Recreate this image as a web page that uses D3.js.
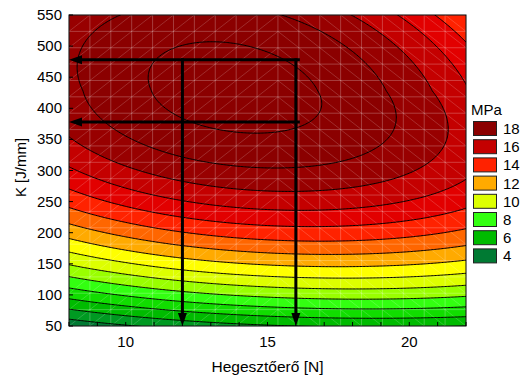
<!DOCTYPE html>
<html>
<head>
<meta charset="utf-8">
<script src="https://cdn.jsdelivr.net/npm/d3@7"></script>
<style>
  body { margin: 0; background: #fff; }
  text { font-family: "Liberation Sans", Arial, sans-serif; fill: #000; }
</style>
</head>
<body>
<script>
// tengelyek
const xTicks = [10, 15, 20];
const yTicks = [50, 100, 150, 200, 250, 300, 350, 400, 450, 500, 550];
const xMinor = [8, 9, 10, 11, 12, 13, 14, 15, 16, 17, 18, 19, 20, 21, 22];

// kontur szintek (MPa) es jelmagyarazat
const levels = [0, 1, 2, 3, 4, 5, 6, 7, 8, 9, 10, 11, 12, 13, 14, 15, 16, 17, 18, 19];
const legendValues = [18, 16, 14, 12, 10, 8, 6, 4];
const legendColors = ["#8b0000", "#c40000", "#ff2200", "#ffaa00", "#ddff00", "#33ff11", "#00bb00", "#007a33"];

// savok szinei szintenkent
const bandLevels = [3, 4, 5, 6, 7, 8, 9, 10, 11, 12, 13, 14, 15, 16, 17, 18];
const bandColors = ["#006a2c", "#007a33", "#009a22", "#00bb00", "#11dd00", "#33ff11", "#99ff00",
  "#ddff00", "#ffff00", "#ffaa00", "#ff6600", "#ff2200", "#e20000", "#c40000", "#980000", "#8b0000"];

// illesztett felulet: optimum [F, K, MPa], gorbuletek, gerinc
const peak = [13.84, 428, 19.43];
const curvK = [6.89e-5, 9.3e-5];   // K felett / alatt
const curvF = [0.05, 9.2e-5];
const ridge = [0.0107, 7.88e-6];

// nyilak (leolvasas)
const arrowF = [12, 16];
const arrowK = [478, 378];

function mpa(F, K) {
  const v = K - peak[1];
  const g = peak[2] - (v > 0 ? curvK[0] : curvK[1]) * v * v;
  const a = curvF[0] + curvF[1] * Math.min(v, 0);
  const fo = peak[0] - ridge[0] * v + ridge[1] * v * v;
  return g - a * (F - fo) * (F - fo);
}

const W = 524, H = 376;
const L = 69, R = 466, T = 15, B = 326;

const svg = d3.select("body").append("svg")
    .attr("width", W).attr("height", H);

const x = d3.scaleLinear().domain([8, 22]).range([L, R]);
const y = d3.scaleLinear().domain([50, 550]).range([B, T]);

const bandColor = d3.scaleLinear()
    .domain(bandLevels)
    .range(bandColors)
    .clamp(true);

svg.append("clipPath").attr("id", "plotclip")
  .append("rect").attr("x", L).attr("y", T).attr("width", R - L).attr("height", B - T);

const plot = svg.append("g").attr("clip-path", "url(#plotclip)");

// racs a feluletre (kicsit tulnyulik a tartomanyon)
const F0 = 7.5, dF = 0.05, nx = 301;
const K0 = 30, dK = 2, ny = 271;
const values = new Float64Array(nx * ny);
for (let j = 0; j < ny; j++) {
  for (let i = 0; i < nx; i++) {
    values[j * nx + i] = mpa(F0 + i * dF, K0 + j * dK);
  }
}

const contours = d3.contours().size([nx, ny]).thresholds(levels)(values);

const proj = d3.geoTransform({
  point: function(px, py) {
    this.stream.point(x(F0 + (px - 0.5) * dF), y(K0 + (py - 0.5) * dK));
  }
});
const path = d3.geoPath(proj);

plot.append("rect").attr("x", L).attr("y", T).attr("width", R - L).attr("height", B - T)
    .attr("fill", bandColor(0));

plot.selectAll("path.band")
  .data(contours)
  .enter().append("path")
    .attr("class", "band")
    .attr("d", path)
    .attr("fill", d => bandColor(d.value))
    .attr("stroke", d => bandColor(d.value))
    .attr("stroke-width", 0.5);

// halo (vilagos racs + atlok)
const meshN = 19;
const mesh = plot.append("g")
    .attr("stroke", "#ffffff").attr("fill", "none");
for (let k = 0; k <= meshN; k++) {
  const fx = x(8 + k * 14 / meshN);
  const ky = y(50 + k * 500 / meshN);
  mesh.append("line").attr("x1", fx).attr("x2", fx).attr("y1", T).attr("y2", B)
      .attr("stroke-width", 1).attr("stroke-opacity", 0.24);
  mesh.append("line").attr("x1", L).attr("x2", R).attr("y1", ky).attr("y2", ky)
      .attr("stroke-width", 1).attr("stroke-opacity", 0.24);
}
for (let i = 0; i < meshN; i++) {
  for (let j = 0; j < meshN; j++) {
    const xa = x(8 + i * 14 / meshN), xb = x(8 + (i + 1) * 14 / meshN);
    const ya = y(50 + j * 500 / meshN), yb = y(50 + (j + 1) * 500 / meshN);
    const ln = mesh.append("line").attr("stroke-width", 0.8).attr("stroke-opacity", 0.22);
    if (i < 10) {
      ln.attr("x1", xa).attr("y1", ya).attr("x2", xb).attr("y2", yb);
    } else {
      ln.attr("x1", xa).attr("y1", yb).attr("x2", xb).attr("y2", ya);
    }
  }
}

// kontur vonalak
plot.selectAll("path.iso")
  .data(contours.filter(d => d.value > 0))
  .enter().append("path")
    .attr("class", "iso")
    .attr("d", path)
    .attr("fill", "none")
    .attr("stroke", "#000")
    .attr("stroke-width", 1);

// nyilak
const arrows = svg.append("g").attr("stroke", "#000").attr("stroke-width", 3).attr("fill", "none");
arrowK.forEach(k => {
  arrows.append("line")
    .attr("x1", x(arrowF[1]) + 4).attr("y1", y(k))
    .attr("x2", x(8) + 8).attr("y2", y(k));
  svg.append("path")
    .attr("d", `M${x(8)},${y(k)} L${x(8) + 13},${y(k) - 4.5} L${x(8) + 13},${y(k) + 4.5} Z`)
    .attr("fill", "#000");
});
arrowF.forEach(f => {
  arrows.append("line")
    .attr("x1", x(f)).attr("y1", y(arrowK[0]) - 1.5)
    .attr("x2", x(f)).attr("y2", y(50) - 8);
  svg.append("path")
    .attr("d", `M${x(f)},${y(50)} L${x(f) - 4.5},${y(50) - 13} L${x(f) + 4.5},${y(50) - 13} Z`)
    .attr("fill", "#000");
});

// keret + osztasok
svg.append("rect").attr("x", L).attr("y", T).attr("width", R - L).attr("height", B - T)
    .attr("fill", "none").attr("stroke", "#000").attr("stroke-width", 1);

svg.selectAll("line.xminor")
  .data(xMinor).enter().append("line")
    .attr("x1", d => x(d)).attr("x2", d => x(d))
    .attr("y1", B).attr("y2", B - 4)
    .attr("stroke", "#000");
svg.selectAll("line.yminor")
  .data(yTicks).enter().append("line")
    .attr("x1", L).attr("x2", L + 4)
    .attr("y1", d => y(d)).attr("y2", d => y(d))
    .attr("stroke", "#000");

svg.selectAll("text.xt")
  .data(xTicks).enter().append("text")
    .attr("x", d => x(d)).attr("y", 347)
    .attr("text-anchor", "middle")
    .attr("font-size", 15)
    .text(d => d);

svg.selectAll("text.yt")
  .data(yTicks).enter().append("text")
    .attr("x", 62).attr("y", d => y(d) + 5)
    .attr("text-anchor", "end")
    .attr("font-size", 15)
    .text(d => d);

svg.append("text")
    .attr("x", (L + R) / 2).attr("y", 372)
    .attr("text-anchor", "middle")
    .attr("font-size", 15.5)
    .text("Hegesztőerő [N]");

svg.append("text")
    .attr("transform", `translate(25.5,${(T + B) / 2 - 3}) rotate(-90)`)
    .attr("text-anchor", "middle")
    .attr("font-size", 15)
    .text("K [J/mm]");

// jelmagyarazat
const lg = svg.append("g");
lg.append("text").attr("x", 471).attr("y", 115).attr("font-size", 15).text("MPa");
legendValues.forEach((v, i) => {
  const yy = 121.5 + i * 18.2;
  lg.append("rect")
    .attr("x", 473.5).attr("y", yy).attr("width", 23).attr("height", 14)
    .attr("fill", legendColors[i]).attr("stroke", "#222").attr("stroke-width", 1);
  lg.append("text")
    .attr("x", 503).attr("y", yy + 12.5)
    .attr("font-size", 15)
    .text(v);
});
</script>
</body>
</html>
